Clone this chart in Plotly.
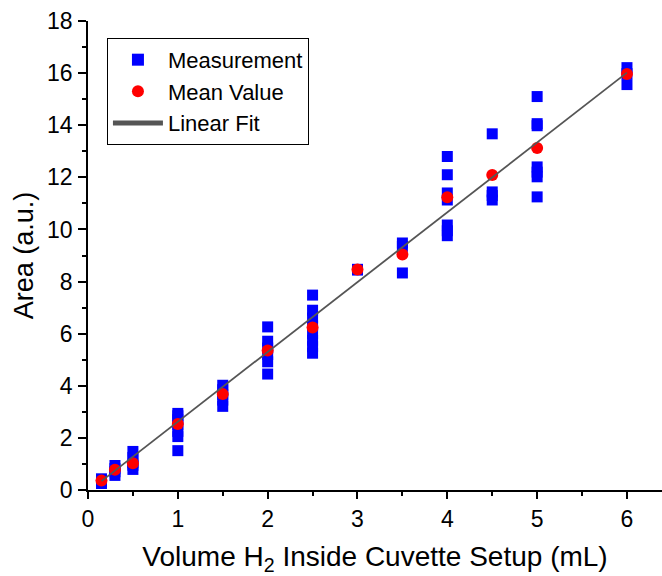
import plotly.graph_objects as go
import numpy as np

# Individual measurements (volume mL, area a.u.)
meas_volume = (
    [0.15] * 4 + [0.3] * 4 + [0.5] * 5 + [1.0] * 7 + [1.5] * 5 + [2.0] * 6
    + [2.5] * 8 + [3.0] * 2 + [3.5] * 3 + [4.0] * 7 + [4.5] * 4 + [5.0] * 7 + [6.0] * 3
)
meas_area = (
    [0.25, 0.32, 0.38, 0.43]
    + [0.56, 0.70, 0.82, 0.94]
    + [0.79, 0.95, 1.05, 1.25, 1.48]
    + [1.51, 2.05, 2.25, 2.50, 2.70, 2.85, 2.94]
    + [3.21, 3.45, 3.65, 3.85, 4.02]
    + [4.45, 4.92, 5.20, 5.45, 5.71, 6.26]
    + [5.25, 5.50, 5.75, 6.00, 6.30, 6.60, 6.90, 7.48]
    + [8.44, 8.47]
    + [8.33, 9.35, 9.48]
    + [9.76, 9.95, 10.17, 11.13, 11.40, 12.10, 12.80]
    + [11.13, 11.30, 11.44, 13.67]
    + [11.25, 12.02, 12.20, 12.40, 13.98, 14.06, 15.10]
    + [15.56, 15.98, 16.21]
)

# Mean values
mean_volume = [0.15, 0.3, 0.5, 1.0, 1.5, 2.0, 2.5, 3.0, 3.5, 4.0, 4.5, 5.0, 6.0]
mean_area = [0.36, 0.78, 1.03, 2.53, 3.68, 5.35, 6.24, 8.46, 9.04, 11.24, 12.09, 13.13, 15.97]

# Linear fit parameters
fit_slope = 2.68
fit_intercept = -0.06
fit_volume = np.array([0.15, 6.0])
fit_area = fit_intercept + fit_slope * fit_volume

FONT = "Arial, Liberation Sans, sans-serif"

fig = go.Figure()
fig.add_trace(go.Scatter(
    x=meas_volume, y=meas_area, mode="markers", name="Measurement",
    marker=dict(symbol="square", size=11, color="#0000FF", line=dict(width=0)),
))
fig.add_trace(go.Scatter(
    x=mean_volume, y=mean_area, mode="markers", name="Mean Value",
    marker=dict(symbol="circle", size=12, color="#FF0000", line=dict(width=0)),
))
fig.add_trace(go.Scatter(
    x=fit_volume, y=fit_area, mode="lines", name="Linear Fit",
    line=dict(color="#555555", width=1.8),
))

xr = [0, 6.39]
fig.update_layout(
    width=662, height=576,
    margin=dict(l=88, r=0, t=21, b=86),
    paper_bgcolor="white", plot_bgcolor="white",
    font=dict(family=FONT, color="black"),
    showlegend=True,
    legend=dict(
        x=0.033, y=0.964, xanchor="left", yanchor="top",
        bgcolor="white", bordercolor="black", borderwidth=1,
        font=dict(size=22, family=FONT, color="black"),
        itemsizing="constant", itemwidth=50,
    ),
    xaxis=dict(
        range=xr, showgrid=False, zeroline=False,
        showline=True, linecolor="black", linewidth=1.5,
        ticks="outside", ticklen=7, tickwidth=1.5, tickcolor="black",
        tick0=0, dtick=1, ticklabelstandoff=1,
        tickfont=dict(size=23, family=FONT, color="black"),
        minor=dict(ticks="outside", ticklen=4, tickwidth=1.5, dtick=0.5, tickcolor="black", showgrid=False),
        title=dict(text="Volume H<sub>2</sub> Inside Cuvette Setup (mL)",
                   font=dict(size=28, family=FONT, color="black"), standoff=16),
        automargin=False,
    ),
    xaxis2=dict(
        range=xr, overlaying="x", side="top", showgrid=False, zeroline=False,
        showline=True, linecolor="black", linewidth=1.5,
        ticks="inside", ticklen=8, tickwidth=1.5, tickcolor="black",
        tick0=0, dtick=1, showticklabels=False,
        minor=dict(ticks="inside", ticklen=4, tickwidth=1.5, dtick=0.5, tickcolor="black", showgrid=False),
    ),
    yaxis=dict(
        range=[0, 18], showgrid=False, zeroline=False,
        showline=True, linecolor="black", linewidth=1.5,
        ticks="outside", ticklen=8, tickwidth=1.5, tickcolor="black",
        tick0=0, dtick=2, ticklabelstandoff=1,
        tickfont=dict(size=23, family=FONT, color="black"),
        minor=dict(ticks="outside", ticklen=4, tickwidth=1.5, dtick=1, tickcolor="black", showgrid=False),
        title=dict(text="Area (a.u.)", font=dict(size=27, family=FONT, color="black"), standoff=6),
        automargin=False,
    ),
)

fig.write_html("out.html", config={"displayModeBar": False},
               post_script="document.body.style.margin='0';")
